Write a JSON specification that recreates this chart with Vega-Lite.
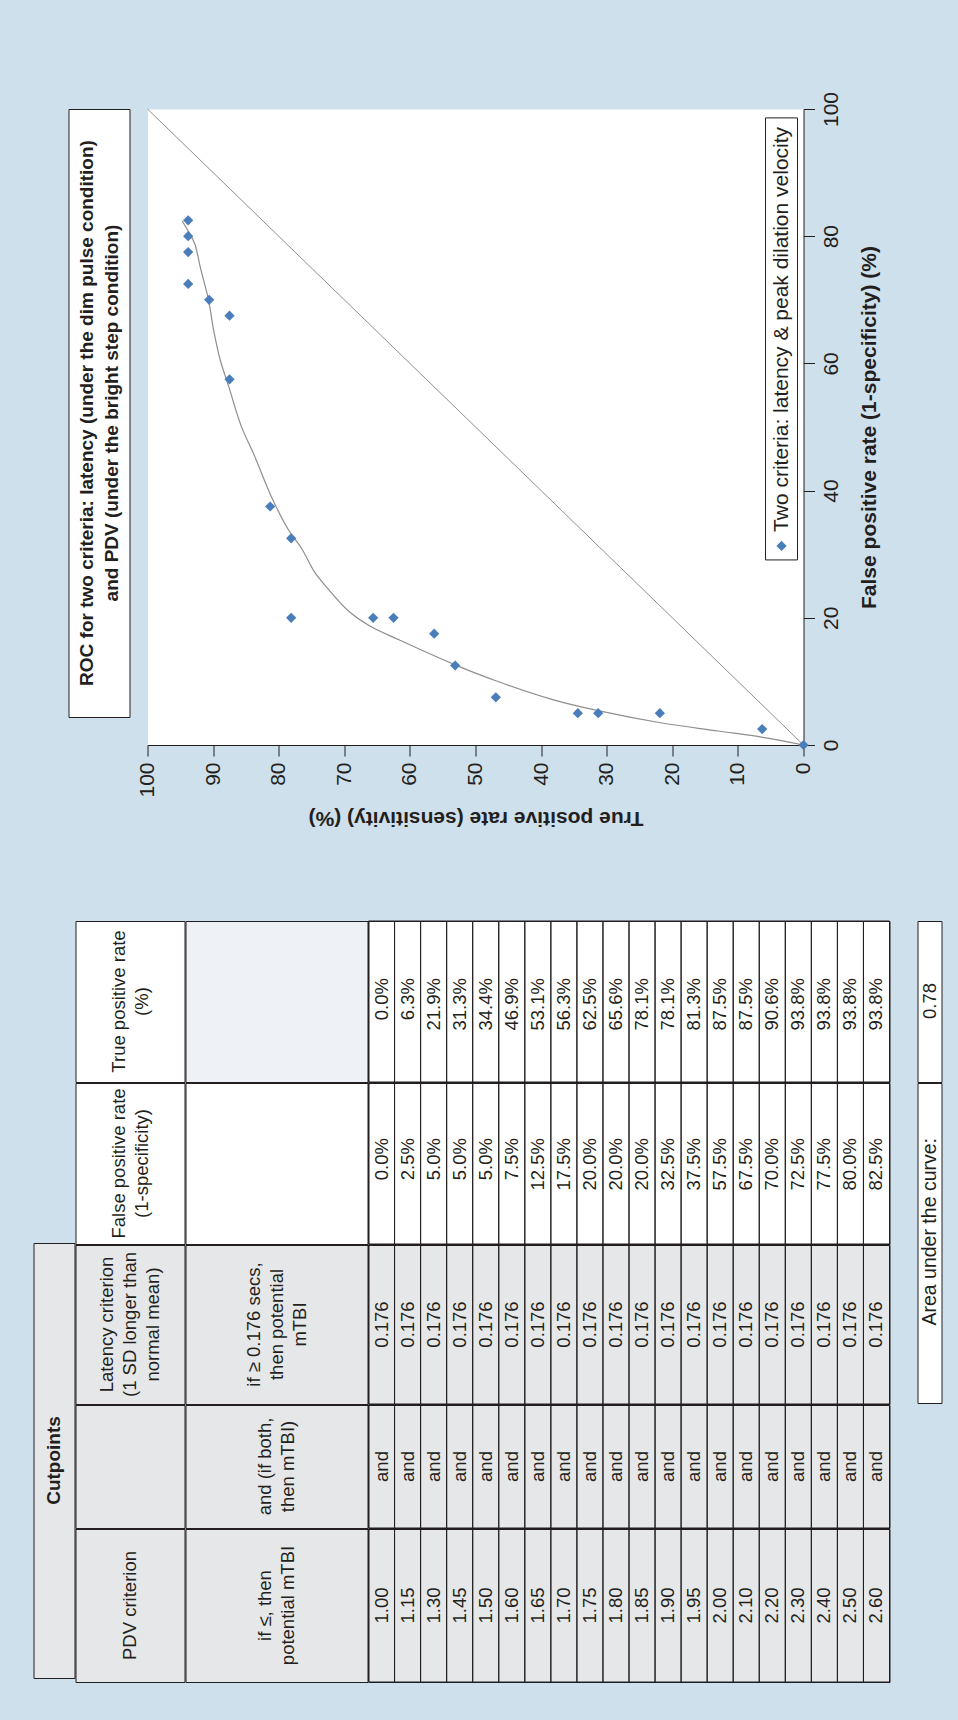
{
  "$schema": "https://vega.github.io/schema/vega-lite/v6.json",
  "background": "#cfe0ed",
  "padding": {"left": 32.5, "top": 90, "right": 20.5, "bottom": 41.5},
  "config": {
    "font": "Liberation Sans",
    "view": {"stroke": "transparent"},
    "concat": {"spacing": 0},
    "text": {"color": "#231f20", "fontSize": 18.5, "font": "Liberation Sans"}
  },
  "datasets": {
    "roc": [
      {"fpr": 0, "tpr": 0}, {"fpr": 2.5, "tpr": 6.3}, {"fpr": 5, "tpr": 21.9}, {"fpr": 5, "tpr": 31.3},
      {"fpr": 5, "tpr": 34.4}, {"fpr": 7.5, "tpr": 46.9}, {"fpr": 12.5, "tpr": 53.1}, {"fpr": 17.5, "tpr": 56.3},
      {"fpr": 20, "tpr": 62.5}, {"fpr": 20, "tpr": 65.6}, {"fpr": 20, "tpr": 78.1}, {"fpr": 32.5, "tpr": 78.1},
      {"fpr": 37.5, "tpr": 81.3}, {"fpr": 57.5, "tpr": 87.5}, {"fpr": 67.5, "tpr": 87.5}, {"fpr": 70, "tpr": 90.6},
      {"fpr": 72.5, "tpr": 93.8}, {"fpr": 77.5, "tpr": 93.8}, {"fpr": 80, "tpr": 93.8}, {"fpr": 82.5, "tpr": 93.8}
    ],
    "fit": [
      {"tpr": 0, "fpr": 0}, {"tpr": 6.2, "fpr": 1.2}, {"tpr": 13, "fpr": 2.2}, {"tpr": 21.8, "fpr": 3.5},
      {"tpr": 31.3, "fpr": 5.4}, {"tpr": 38.1, "fpr": 7.1}, {"tpr": 46.9, "fpr": 10.1}, {"tpr": 53.1, "fpr": 12.6},
      {"tpr": 61.6, "fpr": 16.5}, {"tpr": 66.1, "fpr": 18.7}, {"tpr": 69.4, "fpr": 21.1}, {"tpr": 72.6, "fpr": 24.7},
      {"tpr": 74.6, "fpr": 27.3}, {"tpr": 76.5, "fpr": 30.9}, {"tpr": 78.5, "fpr": 33.8}, {"tpr": 81.1, "fpr": 39.0},
      {"tpr": 83.7, "fpr": 45.5}, {"tpr": 85.7, "fpr": 50.1}, {"tpr": 87.6, "fpr": 56.3}, {"tpr": 88.9, "fpr": 60.5},
      {"tpr": 89.9, "fpr": 65.1}, {"tpr": 90.7, "fpr": 70.0}, {"tpr": 91.9, "fpr": 74.9}, {"tpr": 92.8, "fpr": 78.8},
      {"tpr": 93.8, "fpr": 80.8}, {"tpr": 94.7, "fpr": 82.4}
    ],
    "diag": [{"tpr": 0, "fpr": 0}, {"tpr": 100, "fpr": 100}],
    "table": [
      {"pdv": "1.00", "conj": "and", "latency": "0.176", "fpr": "0.0%", "tpr": "0.0%"},
      {"pdv": "1.15", "conj": "and", "latency": "0.176", "fpr": "2.5%", "tpr": "6.3%"},
      {"pdv": "1.30", "conj": "and", "latency": "0.176", "fpr": "5.0%", "tpr": "21.9%"},
      {"pdv": "1.45", "conj": "and", "latency": "0.176", "fpr": "5.0%", "tpr": "31.3%"},
      {"pdv": "1.50", "conj": "and", "latency": "0.176", "fpr": "5.0%", "tpr": "34.4%"},
      {"pdv": "1.60", "conj": "and", "latency": "0.176", "fpr": "7.5%", "tpr": "46.9%"},
      {"pdv": "1.65", "conj": "and", "latency": "0.176", "fpr": "12.5%", "tpr": "53.1%"},
      {"pdv": "1.70", "conj": "and", "latency": "0.176", "fpr": "17.5%", "tpr": "56.3%"},
      {"pdv": "1.75", "conj": "and", "latency": "0.176", "fpr": "20.0%", "tpr": "62.5%"},
      {"pdv": "1.80", "conj": "and", "latency": "0.176", "fpr": "20.0%", "tpr": "65.6%"},
      {"pdv": "1.85", "conj": "and", "latency": "0.176", "fpr": "20.0%", "tpr": "78.1%"},
      {"pdv": "1.90", "conj": "and", "latency": "0.176", "fpr": "32.5%", "tpr": "78.1%"},
      {"pdv": "1.95", "conj": "and", "latency": "0.176", "fpr": "37.5%", "tpr": "81.3%"},
      {"pdv": "2.00", "conj": "and", "latency": "0.176", "fpr": "57.5%", "tpr": "87.5%"},
      {"pdv": "2.10", "conj": "and", "latency": "0.176", "fpr": "67.5%", "tpr": "87.5%"},
      {"pdv": "2.20", "conj": "and", "latency": "0.176", "fpr": "70.0%", "tpr": "90.6%"},
      {"pdv": "2.30", "conj": "and", "latency": "0.176", "fpr": "72.5%", "tpr": "93.8%"},
      {"pdv": "2.40", "conj": "and", "latency": "0.176", "fpr": "77.5%", "tpr": "93.8%"},
      {"pdv": "2.50", "conj": "and", "latency": "0.176", "fpr": "80.0%", "tpr": "93.8%"},
      {"pdv": "2.60", "conj": "and", "latency": "0.176", "fpr": "82.5%", "tpr": "93.8%"}
    ]
  },
  "spacing": 91,
  "vconcat": [
    {
      "bounds": "flush",
      "spacing": 18,
      "hconcat": [
        {"width": 17, "height": 10, "data": {"values": []}, "mark": "point"},
        {
          "width": 61, "height": 608,
          "view": {"fill": "white", "stroke": "#231f20"},
          "data": {"values": [{}]},
          "mark": {"type": "text", "angle": 270, "fontWeight": "bold", "fontSize": 19, "lineHeight": 25, "dy": -12.5, "align": "center", "baseline": "middle"},
          "encoding": {"text": {"value": ["ROC for two criteria: latency (under the dim pulse condition)", "and PDV (under the bright step condition)"]}}
        },
        {
          "width": 656, "height": 636,
          "view": {"fill": "white", "stroke": "transparent"},
          "layer": [
            {
              "data": {"name": "diag"},
              "mark": {"type": "line", "color": "#8e8e8e", "strokeWidth": 1},
              "encoding": {
                "x": {
                  "field": "tpr", "type": "quantitative", "title": "True positive rate (sensitivity) (%)",
                  "scale": {"domain": [0, 100], "reverse": true, "nice": false, "zero": false},
                  "axis": {
                    "orient": "bottom", "values": [0, 10, 20, 30, 40, 50, 60, 70, 80, 90, 100],
                    "grid": false, "labelAngle": 270, "labelAlign": "right", "labelBaseline": "middle",
                    "labelFlush": false, "labelOverlap": false, "labelFontSize": 21, "labelPadding": 6,
                    "labelColor": "#231f20", "tickSize": 11, "tickColor": "#231f20", "domainColor": "#231f20",
                    "titleAngle": 180, "titleBaseline": "bottom",
                    "titleFontSize": 21, "titleFontWeight": "bold", "titleColor": "#231f20", "titlePadding": 10
                  }
                },
                "y": {
                  "field": "fpr", "type": "quantitative", "title": "False positive rate (1-specificity) (%)",
                  "scale": {"domain": [0, 100], "nice": false, "zero": false},
                  "axis": {
                    "orient": "right", "values": [0, 20, 40, 60, 80, 100],
                    "grid": false, "labelAngle": 270, "labelAlign": "center", "labelBaseline": "top",
                    "labelFlush": false, "labelOverlap": false, "labelFontSize": 21, "labelPadding": 6,
                    "labelColor": "#231f20", "tickSize": 11, "tickColor": "#231f20", "domainColor": "#231f20",
                    "titleAngle": 270, "titleBaseline": "top",
                    "titleFontSize": 21, "titleFontWeight": "bold", "titleColor": "#231f20", "titlePadding": 17
                  }
                }
              }
            },
            {
              "data": {"name": "fit"},
              "mark": {"type": "line", "color": "#8e8e8e", "strokeWidth": 1.2, "interpolate": "catmull-rom"},
              "encoding": {
                "x": {"field": "tpr", "type": "quantitative", "title": "True positive rate (sensitivity) (%)"},
                "y": {"field": "fpr", "type": "quantitative", "title": "False positive rate (1-specificity) (%)"}
              }
            },
            {
              "data": {"name": "roc"},
              "mark": {"type": "point", "shape": "diamond", "filled": true, "size": 105, "color": "#4a7ebb", "opacity": 1},
              "encoding": {
                "x": {"field": "tpr", "type": "quantitative", "title": "True positive rate (sensitivity) (%)"},
                "y": {"field": "fpr", "type": "quantitative", "title": "False positive rate (1-specificity) (%)"}
              }
            },
            {
              "data": {"values": [{}]},
              "mark": {"type": "rect", "fill": "white", "stroke": "#231f20", "strokeWidth": 1},
              "encoding": {
                "x": {"datum": 5.79, "type": "quantitative", "title": "True positive rate (sensitivity) (%)"}, "x2": {"datum": 0.91},
                "y": {"datum": 98.6, "type": "quantitative", "title": "False positive rate (1-specificity) (%)"}, "y2": {"datum": 29.1}
              }
            },
            {
              "data": {"values": [{}]},
              "mark": {"type": "point", "shape": "diamond", "filled": true, "size": 105, "color": "#4a7ebb", "opacity": 1},
              "encoding": {
                "x": {"datum": 3.35, "type": "quantitative", "title": "True positive rate (sensitivity) (%)"},
                "y": {"datum": 31.3, "type": "quantitative", "title": "False positive rate (1-specificity) (%)"}
              }
            },
            {
              "data": {"values": [{"label": "Two criteria: latency & peak dilation velocity"}]},
              "mark": {"type": "text", "angle": 270, "align": "left", "baseline": "middle", "fontSize": 21},
              "encoding": {
                "x": {"datum": 3.35, "type": "quantitative", "title": "True positive rate (sensitivity) (%)"},
                "y": {"datum": 33.5, "type": "quantitative", "title": "False positive rate (1-specificity) (%)"},
                "text": {"field": "label"}
              }
            }
          ]
        }
      ]
    },
    {
      "spacing": 26,
      "hconcat": [
        {
          "spacing": -1,
          "hconcat": [
            {
              "spacing": -1,
              "vconcat": [
                {"width": 41, "height": 322, "data": {"values": []}, "mark": "point"},
                {
                  "width": 41, "height": 435,
                  "view": {"fill": "#e6e7e8", "stroke": "#231f20"},
                  "data": {"values": [{}]},
                  "mark": {"type": "text", "angle": 270, "fontWeight": "bold", "fontSize": 19, "align": "center", "baseline": "middle"},
                  "encoding": {"text": {"value": "Cutpoints"}}
                }
              ]
            },
            {
              "spacing": -1,
              "vconcat": [
                {
                  "spacing": -1,
                  "hconcat": [
                    {
                      "width": 109, "height": 161,
                      "view": {"fill": "white", "stroke": "#231f20"},
                      "data": {"values": [{}]},
                      "mark": {"type": "text", "angle": 270, "lineHeight": 23, "dy": -11.5, "align": "center", "baseline": "middle"},
                      "encoding": {"text": {"value": ["True positive rate", "(%)"]}}
                    },
                    {
                      "width": 182, "height": 161,
                      "view": {"fill": "#eef2f7", "stroke": "#231f20"},
                      "data": {"values": []}, "mark": "point"
                    },
                    {
                      "width": 521, "height": 161,
                      "view": {"fill": "white", "stroke": "#231f20"},
                      "data": {"name": "table"},
                      "encoding": {"x": {"field": "pdv", "type": "ordinal", "sort": null, "axis": null, "scale": {"paddingInner": 0, "paddingOuter": 0}}},
                      "layer": [
                        {"mark": {"type": "rect", "fill": "transparent", "stroke": "#231f20", "strokeWidth": 1}},
                        {"mark": {"type": "text", "angle": 270, "align": "right", "baseline": "middle", "dx": 23.5}, "encoding": {"text": {"field": "tpr"}}}
                      ]
                    }
                  ]
                },
                {
                  "spacing": -1,
                  "hconcat": [
                    {
                      "width": 109, "height": 161,
                      "view": {"fill": "white", "stroke": "#231f20"},
                      "data": {"values": [{}]},
                      "mark": {"type": "text", "angle": 270, "lineHeight": 23, "dy": -11.5, "align": "center", "baseline": "middle"},
                      "encoding": {"text": {"value": ["False positive rate", "(1-specificity)"]}}
                    },
                    {
                      "width": 182, "height": 161,
                      "view": {"fill": "white", "stroke": "#231f20"},
                      "data": {"values": []}, "mark": "point"
                    },
                    {
                      "width": 521, "height": 161,
                      "view": {"fill": "white", "stroke": "#231f20"},
                      "data": {"name": "table"},
                      "encoding": {"x": {"field": "pdv", "type": "ordinal", "sort": null, "axis": null, "scale": {"paddingInner": 0, "paddingOuter": 0}}},
                      "layer": [
                        {"mark": {"type": "rect", "fill": "transparent", "stroke": "#231f20", "strokeWidth": 1}},
                        {"mark": {"type": "text", "angle": 270, "align": "right", "baseline": "middle", "dx": 25.5}, "encoding": {"text": {"field": "fpr"}}}
                      ]
                    }
                  ]
                },
                {
                  "spacing": -1,
                  "hconcat": [
                    {
                      "width": 109, "height": 159,
                      "view": {"fill": "#e6e7e8", "stroke": "#231f20"},
                      "data": {"values": [{}]},
                      "mark": {"type": "text", "angle": 270, "lineHeight": 23, "dy": -23, "align": "center", "baseline": "middle"},
                      "encoding": {"text": {"value": ["Latency criterion", "(1 SD longer than", "normal mean)"]}}
                    },
                    {
                      "width": 182, "height": 159,
                      "view": {"fill": "#e6e7e8", "stroke": "#231f20"},
                      "data": {"values": [{}]},
                      "mark": {"type": "text", "angle": 270, "lineHeight": 23, "dy": -23, "align": "center", "baseline": "middle"},
                      "encoding": {"text": {"value": ["if ≥ 0.176 secs,", "then potential", "mTBI"]}}
                    },
                    {
                      "width": 521, "height": 159,
                      "view": {"fill": "#e6e7e8", "stroke": "#231f20"},
                      "data": {"name": "table"},
                      "encoding": {"x": {"field": "pdv", "type": "ordinal", "sort": null, "axis": null, "scale": {"paddingInner": 0, "paddingOuter": 0}}},
                      "layer": [
                        {"mark": {"type": "rect", "fill": "transparent", "stroke": "#231f20", "strokeWidth": 1}},
                        {"mark": {"type": "text", "angle": 270, "align": "center", "baseline": "middle"}, "encoding": {"text": {"field": "latency"}}}
                      ]
                    }
                  ]
                },
                {
                  "spacing": -1,
                  "hconcat": [
                    {
                      "width": 109, "height": 123,
                      "view": {"fill": "#e6e7e8", "stroke": "#231f20"},
                      "data": {"values": []}, "mark": "point"
                    },
                    {
                      "width": 182, "height": 123,
                      "view": {"fill": "#e6e7e8", "stroke": "#231f20"},
                      "data": {"values": [{}]},
                      "mark": {"type": "text", "angle": 270, "lineHeight": 23, "dy": -11.5, "align": "center", "baseline": "middle"},
                      "encoding": {"text": {"value": ["and (if both,", "then mTBI)"]}}
                    },
                    {
                      "width": 521, "height": 123,
                      "view": {"fill": "#e6e7e8", "stroke": "#231f20"},
                      "data": {"name": "table"},
                      "encoding": {"x": {"field": "pdv", "type": "ordinal", "sort": null, "axis": null, "scale": {"paddingInner": 0, "paddingOuter": 0}}},
                      "layer": [
                        {"mark": {"type": "rect", "fill": "transparent", "stroke": "#231f20", "strokeWidth": 1}},
                        {"mark": {"type": "text", "angle": 270, "align": "center", "baseline": "middle"}, "encoding": {"text": {"field": "conj"}}}
                      ]
                    }
                  ]
                },
                {
                  "spacing": -1,
                  "hconcat": [
                    {
                      "width": 109, "height": 153,
                      "view": {"fill": "#e6e7e8", "stroke": "#231f20"},
                      "data": {"values": [{}]},
                      "mark": {"type": "text", "angle": 270, "align": "center", "baseline": "middle"},
                      "encoding": {"text": {"value": "PDV criterion"}}
                    },
                    {
                      "width": 182, "height": 153,
                      "view": {"fill": "#e6e7e8", "stroke": "#231f20"},
                      "data": {"values": [{}]},
                      "mark": {"type": "text", "angle": 270, "lineHeight": 23, "dy": -11.5, "align": "center", "baseline": "middle"},
                      "encoding": {"text": {"value": ["if ≤, then", "potential mTBI"]}}
                    },
                    {
                      "width": 521, "height": 153,
                      "view": {"fill": "#e6e7e8", "stroke": "#231f20"},
                      "data": {"name": "table"},
                      "encoding": {"x": {"field": "pdv", "type": "ordinal", "sort": null, "axis": null, "scale": {"paddingInner": 0, "paddingOuter": 0}}},
                      "layer": [
                        {"mark": {"type": "rect", "fill": "transparent", "stroke": "#231f20", "strokeWidth": 1}},
                        {"mark": {"type": "text", "angle": 270, "align": "center", "baseline": "middle"}, "encoding": {"text": {"field": "pdv"}}}
                      ]
                    }
                  ]
                }
              ]
            }
          ]
        },
        {
          "spacing": -1,
          "vconcat": [
            {
              "width": 24, "height": 161,
              "view": {"fill": "white", "stroke": "#231f20"},
              "data": {"values": [{}]},
              "mark": {"type": "text", "angle": 270, "align": "right", "baseline": "middle", "dx": 18.5},
              "encoding": {"text": {"value": "0.78"}}
            },
            {
              "width": 24, "height": 320,
              "view": {"fill": "white", "stroke": "#231f20"},
              "data": {"values": [{}]},
              "mark": {"type": "text", "angle": 270, "fontSize": 19.5, "align": "right", "baseline": "middle", "dx": 105},
              "encoding": {"text": {"value": "Area under the curve:"}}
            }
          ]
        }
      ]
    }
  ]
}
